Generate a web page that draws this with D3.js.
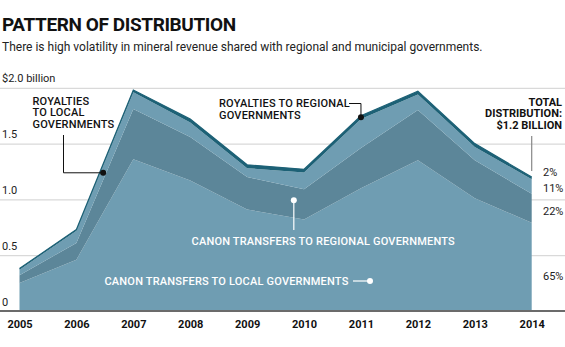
<!DOCTYPE html>
<html>
<head>
<meta charset="utf-8">
<script src="https://cdn.jsdelivr.net/npm/d3@7"></script>
<style>
  html, body { margin: 0; padding: 0; background: #fff; }
  svg { display: block; }
  text { font-family: Roboto, "Noto Sans", sans-serif; }
</style>
</head>
<body>
<svg id="chart" width="565" height="347"></svg>
<script>
// Mineral revenue distribution, billions of dollars
const years = [2005, 2006, 2007, 2008, 2009, 2010, 2011, 2012, 2013, 2014];
const canonLocal      = [0.25, 0.46, 1.36, 1.17, 0.91, 0.82, 1.10, 1.35, 1.01, 0.79];
const canonRegional   = [0.07, 0.15, 0.45, 0.39, 0.29, 0.27, 0.36, 0.45, 0.34, 0.26];
const royaltyLocal    = [0.05, 0.11, 0.15, 0.13, 0.08, 0.15, 0.26, 0.14, 0.12, 0.13];
const royaltyRegional = [0.01, 0.01, 0.02, 0.03, 0.03, 0.03, 0.03, 0.03, 0.03, 0.02];
const yTicks = [0, 0.5, 1.0, 1.5, 2.0];
const yTickLabels = ["0", "0.5", "1.0", "1.5", "$2.0 billion"];
const shareLabels = ["2%", "11%", "22%", "65%"];

const keys = ["canonLocal", "canonRegional", "royaltyLocal", "royaltyRegional"];
const rows = years.map((yr, i) => ({
  year: yr,
  canonLocal: canonLocal[i],
  canonRegional: canonRegional[i],
  royaltyLocal: royaltyLocal[i],
  royaltyRegional: royaltyRegional[i]
}));

const W = 565, H = 347;
const svg = d3.select("#chart");

const x = d3.scaleLinear().domain([2005, 2014]).range([19.5, 531.7]);
const y = d3.scaleLinear().domain([0, 2]).range([311, 87.8]);

const fills = {
  canonLocal: "#6f9db2",
  canonRegional: "#5c8699",
  royaltyLocal: "#6f9db2",
  royaltyRegional: "#1d6176"
};

// gridlines + y labels
const yAxis = svg.append("g").attr("class", "y-axis")
  .call(d3.axisRight(y).tickValues(yTicks).tickSize(W)
    .tickFormat((d, i) => yTickLabels[i]));
yAxis.select(".domain").remove();
yAxis.selectAll(".tick line").attr("stroke", "#d9d9d9").attr("stroke-width", 1.2);
yAxis.selectAll(".tick text")
  .attr("x", 2).attr("dy", -6).attr("text-anchor", "start")
  .attr("fill", "#222").style("font-size", "11px");

// stacked areas
const series = d3.stack().keys(keys)(rows);
const area = d3.area()
  .x(d => x(d.data.year))
  .y0(d => y(d[0]))
  .y1(d => y(d[1]));

svg.append("g").selectAll("path")
  .data(series)
  .join("path")
  .attr("d", area)
  .attr("fill", d => fills[d.key]);

// dark edge along the total
const topLine = d3.line()
  .x(d => x(d.data.year))
  .y(d => y(d[1]));
svg.append("path")
  .datum(series[3])
  .attr("d", topLine)
  .attr("fill", "none")
  .attr("stroke", fills.royaltyRegional)
  .attr("stroke-width", 1.2);

// baseline
svg.append("line")
  .attr("x1", 0).attr("x2", W)
  .attr("y1", y(0)).attr("y2", y(0))
  .attr("stroke", "#6b6b6b").attr("stroke-width", 2);

// year labels
const xAxis = svg.append("g")
  .attr("transform", `translate(0,${y(0) + 4})`)
  .call(d3.axisBottom(x).tickValues(years).tickFormat(d3.format("d")).tickSize(0));
xAxis.select(".domain").remove();
xAxis.selectAll(".tick text")
  .attr("dy", "0.9em")
  .attr("fill", "#111")
  .style("font-size", "11px").style("font-weight", "700");

// title
svg.append("text").attr("x", 2).attr("y", 31)
  .style("font-size", "19px").style("font-weight", "700").style("letter-spacing", "-0.4px")
  .attr("fill", "#111")
  .text("PATTERN OF DISTRIBUTION");
svg.append("text").attr("x", 2).attr("y", 51)
  .style("font-size", "12px").attr("fill", "#222")
  .text("There is high volatility in mineral revenue shared with regional and municipal governments.");

// helpers to locate points within bands
function at(arr, yr) {
  const i = Math.floor(yr - 2005), t = yr - 2005 - i;
  if (t === 0) return arr[i];
  return arr[i] + (arr[i + 1] - arr[i]) * t;
}
function cum(n, yr) {
  let s = 0;
  const arrs = [canonLocal, canonRegional, royaltyLocal, royaltyRegional];
  for (let k = 0; k < n; k++) s += at(arrs[k], yr);
  return s;
}

const labelStyle = sel => sel.style("font-size", "11px").style("font-weight", "500")
  .style("letter-spacing", "0.2px");

// ROYALTIES TO LOCAL GOVERNMENTS
{
  const yr = 2006.47;
  const px = x(yr), py = y((cum(2, yr) + cum(3, yr)) / 2);
  const t = svg.append("text").attr("x", 32.5).attr("y", 104.5).attr("fill", "#111").call(labelStyle);
  ["ROYALTIES", "TO LOCAL", "GOVERNMENTS"].forEach((s, i) =>
    t.append("tspan").attr("x", 32.5).attr("dy", i ? 11.5 : 0).text(s));
  svg.append("path").attr("d", `M63.5,135V${py}H${px}`)
    .attr("fill", "none").attr("stroke", "#111").attr("stroke-width", 1);
  svg.append("circle").attr("cx", px).attr("cy", py).attr("r", 3).attr("fill", "#111");
}

// ROYALTIES TO REGIONAL GOVERNMENTS
{
  const yr = 2011;
  const px = x(yr), py = y((cum(3, yr) + cum(4, yr)) / 2);
  const t = svg.append("text").attr("x", 219).attr("y", 107).attr("fill", "#111").call(labelStyle);
  ["ROYALTIES TO REGIONAL", "GOVERNMENTS"].forEach((s, i) =>
    t.append("tspan").attr("x", 219).attr("dy", i ? 11.5 : 0).text(s));
  svg.append("path").attr("d", `M349,103.5H${px}V${py}`)
    .attr("fill", "none").attr("stroke", "#111").attr("stroke-width", 1);
  svg.append("circle").attr("cx", px).attr("cy", py).attr("r", 3).attr("fill", "#111");
}

// CANON TRANSFERS TO REGIONAL GOVERNMENTS
{
  const yr = 2009.82;
  const px = x(yr), py = y((cum(1, yr) + cum(2, yr)) / 2 + 0.02);
  svg.append("line").attr("x1", px).attr("x2", px).attr("y1", py).attr("y2", 230)
    .attr("stroke", "#fff").attr("stroke-width", 1.2);
  svg.append("circle").attr("cx", px).attr("cy", py).attr("r", 3).attr("fill", "#fff");
  svg.append("text").attr("x", 191.5).attr("y", 245).attr("fill", "#fff").call(labelStyle)
    .text("CANON TRANSFERS TO REGIONAL GOVERNMENTS");
}

// CANON TRANSFERS TO LOCAL GOVERNMENTS
{
  const ly = 281;
  svg.append("text").attr("x", 348.5).attr("y", ly + 4).attr("text-anchor", "end")
    .attr("fill", "#fff").call(labelStyle)
    .text("CANON TRANSFERS TO LOCAL GOVERNMENTS");
  svg.append("line").attr("x1", 353).attr("x2", 370).attr("y1", ly).attr("y2", ly)
    .attr("stroke", "#fff").attr("stroke-width", 1.2);
  svg.append("circle").attr("cx", 370).attr("cy", ly).attr("r", 3).attr("fill", "#fff");
}

// TOTAL DISTRIBUTION callout
{
  const last = years.length - 1;
  const total = canonLocal[last] + canonRegional[last] + royaltyLocal[last] + royaltyRegional[last];
  const t = svg.append("text").attr("x", 562).attr("y", 105.5).attr("text-anchor", "end")
    .attr("fill", "#111").style("font-size", "11px").style("font-weight", "700");
  ["TOTAL", "DISTRIBUTION:", `$${total.toFixed(1)} BILLION`].forEach((s, i) =>
    t.append("tspan").attr("x", 562).attr("dy", i ? 11.7 : 0).text(s));
  svg.append("line").attr("x1", x(2014)).attr("x2", x(2014))
    .attr("y1", 136).attr("y2", y(total) - 6)
    .attr("stroke", "#888").attr("stroke-width", 1.2);

  // shares of the 2014 total
  const shareY = [1.245, 1.10, 0.90, 0.31];
  svg.append("g").selectAll("text")
    .data(shareLabels)
    .join("text")
    .attr("x", 543).attr("y", (d, i) => y(shareY[i]) + 4)
    .attr("fill", "#222").style("font-size", "11px")
    .text(d => d);
}
</script>
</body>
</html>
